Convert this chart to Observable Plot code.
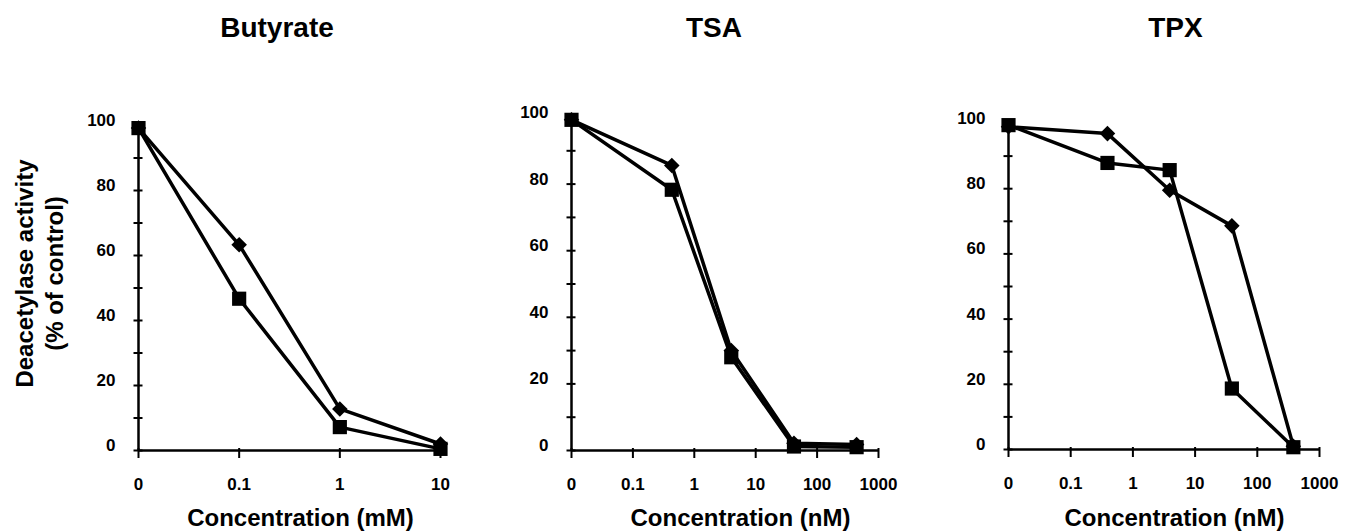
<!DOCTYPE html>
<html><head><meta charset="utf-8">
<script src="https://cdn.jsdelivr.net/npm/d3@7"></script>
<script src="https://cdn.jsdelivr.net/npm/@observablehq/plot@0.6"></script>
<style>
body{margin:0;background:#fff;}
#chart{position:relative;width:1351px;height:531px;overflow:hidden;background:#fff;}
#chart svg{position:absolute;top:0;}
</style></head><body><div id="chart"></div>
<script>
const FONT = '"Liberation Sans", Arial, Helvetica, sans-serif';
const ZERO_AT = 0.01; // where the "0" dose sits on the broken log axis

// Butyrate (mM)
const butyrateConc = [0, 0.1, 1, 10];
const butyrateDiamond = [99.2, 63.3, 12.8, 2];
const butyrateSquare = [99.2, 46.7, 7.2, 0.5];

// TSA (nM)
const tsaConc = [0, 0.43, 4, 42, 440];
const tsaDiamond = [99.3, 85.6, 30, 2.2, 1.8];
const tsaSquare = [99.3, 78.3, 28, 1.2, 1.0];

// TPX (nM)
const tpxConc = [0, 0.39, 3.9, 39, 380];
const tpxDiamond = [99, 96.9, 79.5, 68.6, 1];
const tpxSquare = [99.5, 87.9, 85.7, 18.7, 0.7];

// ticks
const mMTicks = [0.01, 0.1, 1, 10];
const mMTickLabels = ["0", "0.1", "1", "10"];
const nMTicks = [0.01, 0.1, 1, 10, 100, 1000];
const nMTickLabels = ["0", "0.1", "1", "10", "100", "1000"];
const yMinorTicks = [0, 10, 20, 30, 40, 50, 60, 70, 80, 90, 100];
const yLabelTicks = [0, 20, 40, 60, 80, 100];

// texts
const panelTitles = ["Butyrate", "TSA", "TPX"];
const xTitles = ["Concentration (mM)", "Concentration (nM)", "Concentration (nM)"];
const yTitle = "Deacetylase activity\n(% of control)";

function panel(o) {
  const rows = [];
  o.conc.forEach((c, i) => {
    rows.push({x: c === 0 ? ZERO_AT : c, y: o.diamond[i], s: "diamond"});
  });
  o.conc.forEach((c, i) => {
    rows.push({x: c === 0 ? ZERO_AT : c, y: o.square[i], s: "square"});
  });
  const H = 531;
  const marks = [
    Plot.ruleX([ZERO_AT], {stroke: "black", strokeWidth: 2.5}),
    Plot.ruleY([0], {stroke: "black", strokeWidth: 2.5}),
    Plot.axisY({ticks: yMinorTicks, tickSize: 9, dx: 4.5, tickFormat: () => "", stroke: "black", strokeWidth: 2, label: null}),
    Plot.axisY({ticks: yLabelTicks, tickSize: 0, tickPadding: 23, dy: -5, fontSize: 17, fontWeight: "bold", fill: "black", label: null}),
    Plot.axisX({ticks: o.ticks, tickSize: 10, dy: -2, tickPadding: 19, tickFormat: d => o.tickLabels[o.ticks.indexOf(d)], fontSize: 17, fontWeight: "bold", stroke: "black", strokeWidth: 2, fill: "black", label: null}),
    Plot.line(rows, {x: "x", y: "y", z: "s", stroke: "black", strokeWidth: 3.5}),
    Plot.dot(rows.filter(d => d.s === "square"), {x: "x", y: "y", symbol: "square", r: 8, fill: "black", stroke: "none"}),
    Plot.dot(rows.filter(d => d.s === "diamond"), {x: "x", y: "y", symbol: "diamond2", r: 7, fill: "black", stroke: "none"}),
    Plot.text([o.title], {text: d => d, frameAnchor: "top", dx: o.titleDx, dy: 36 - o.marginTop, lineAnchor: "bottom", fontSize: 28, fontWeight: "bold", fill: "black"}),
    Plot.text([o.xTitle], {text: d => d, frameAnchor: "bottom", dx: o.xTitleDx, dy: 525 - (H - o.marginBottom), lineAnchor: "bottom", fontSize: 24, fontWeight: "bold", fill: "black"})
  ];
  if (o.yTitle) {
    marks.push(Plot.text([o.yTitle], {text: d => d, frameAnchor: "left", textAnchor: "middle", dx: -100, dy: -14.5, rotate: -90, lineAnchor: "middle", lineHeight: 1.25, fontSize: 24, fontWeight: "bold", fill: "black"}));
  }
  const svg = Plot.plot({
    width: o.width,
    height: H,
    marginLeft: o.marginLeft,
    marginRight: o.marginRight,
    marginTop: o.marginTop,
    marginBottom: o.marginBottom,
    style: {fontFamily: FONT, color: "black", background: "white", overflow: "visible"},
    x: {type: "log", domain: [ZERO_AT, o.ticks[o.ticks.length - 1]]},
    y: {domain: [0, 100]},
    marks
  });
  svg.style.left = o.left + "px";
  document.getElementById("chart").appendChild(svg);
}

panel({left: 0, width: 470, marginLeft: 138, marginRight: 30, marginTop: 125, marginBottom: 81,
  ticks: mMTicks, tickLabels: mMTickLabels, conc: butyrateConc, diamond: butyrateDiamond, square: butyrateSquare,
  title: panelTitles[0], titleDx: -12.5, xTitle: xTitles[0], xTitleDx: 11, yTitle: yTitle});
panel({left: 470, width: 440, marginLeft: 101, marginRight: 32, marginTop: 117, marginBottom: 81,
  ticks: nMTicks, tickLabels: nMTickLabels, conc: tsaConc, diamond: tsaDiamond, square: tsaSquare,
  title: panelTitles[1], titleDx: -11, xTitle: xTitles[1], xTitleDx: 15.5});
panel({left: 910, width: 441, marginLeft: 98, marginRight: 32, marginTop: 123, marginBottom: 82,
  ticks: nMTicks, tickLabels: nMTickLabels, conc: tpxConc, diamond: tpxDiamond, square: tpxSquare,
  title: panelTitles[2], titleDx: 11.5, xTitle: xTitles[2], xTitleDx: 10.5});
</script></body></html>
